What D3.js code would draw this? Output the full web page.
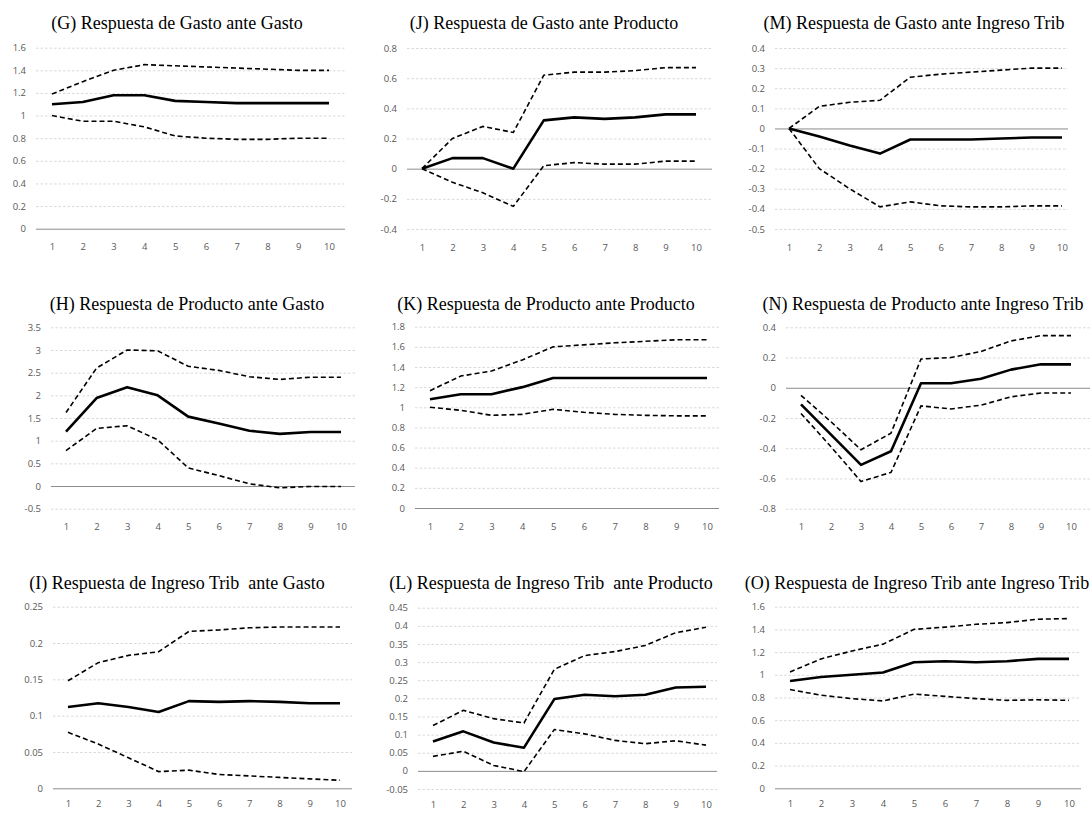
<!DOCTYPE html>
<html>
<head>
<meta charset="utf-8">
<script src="https://cdn.jsdelivr.net/npm/d3@7"></script>
<style>
  body { margin: 0; background: #fff; }
  svg { display: block; }
  .title { font-family: "Liberation Serif", "Times New Roman", serif; font-size: 18px; fill: #000; white-space: pre; }
  .tick text { font-family: "Open Sans", "Liberation Sans", sans-serif; font-size: 9.5px; fill: #595959; }
</style>
</head>
<body>
<svg id="chart" width="1092" height="813"></svg>
<script>
// periods on the x axis
const periods = [1, 2, 3, 4, 5, 6, 7, 8, 9, 10];

// (G) Gasto ante Gasto
const gTicks = [0, 0.2, 0.4, 0.6, 0.8, 1, 1.2, 1.4, 1.6];
const gCenter = [1.10, 1.12, 1.18, 1.18, 1.13, 1.12, 1.11, 1.11, 1.11, 1.11];
const gUpper = [1.19, 1.30, 1.40, 1.45, 1.44, 1.43, 1.42, 1.41, 1.40, 1.40];
const gLower = [1.00, 0.95, 0.95, 0.90, 0.82, 0.80, 0.79, 0.79, 0.80, 0.80];

// (J) Gasto ante Producto
const jTicks = [-0.4, -0.2, 0, 0.2, 0.4, 0.6, 0.8];
const jCenter = [0, 0.07, 0.07, 0, 0.32, 0.34, 0.33, 0.34, 0.36, 0.36];
const jUpper = [0, 0.20, 0.28, 0.24, 0.62, 0.64, 0.64, 0.65, 0.67, 0.67];
const jLower = [0, -0.09, -0.16, -0.25, 0.02, 0.04, 0.03, 0.03, 0.05, 0.05];

// (M) Gasto ante Ingreso Trib
const mTicks = [-0.5, -0.4, -0.3, -0.2, -0.1, 0, 0.1, 0.2, 0.3, 0.4];
const mCenter = [0, -0.04, -0.085, -0.125, -0.055, -0.055, -0.055, -0.05, -0.045, -0.045];
const mUpper = [0, 0.11, 0.13, 0.14, 0.255, 0.27, 0.28, 0.29, 0.30, 0.30];
const mLower = [0, -0.20, -0.30, -0.39, -0.365, -0.385, -0.39, -0.39, -0.385, -0.385];

// (H) Producto ante Gasto
const hTicks = [-0.5, 0, 0.5, 1, 1.5, 2, 2.5, 3, 3.5];
const hCenter = [1.20, 1.94, 2.18, 2.00, 1.53, 1.38, 1.22, 1.15, 1.19, 1.19];
const hUpper = [1.62, 2.60, 3.00, 2.98, 2.64, 2.55, 2.41, 2.35, 2.40, 2.40];
const hLower = [0.78, 1.27, 1.33, 1.02, 0.40, 0.23, 0.05, -0.04, -0.01, -0.01];

// (K) Producto ante Producto
const kTicks = [0, 0.2, 0.4, 0.6, 0.8, 1, 1.2, 1.4, 1.6, 1.8];
const kCenter = [1.08, 1.13, 1.13, 1.20, 1.29, 1.29, 1.29, 1.29, 1.29, 1.29];
const kUpper = [1.165, 1.31, 1.36, 1.47, 1.60, 1.62, 1.64, 1.655, 1.67, 1.67];
const kLower = [1.00, 0.97, 0.92, 0.93, 0.98, 0.95, 0.93, 0.92, 0.915, 0.915];

// (N) Producto ante Ingreso Trib
const nTicks = [-0.8, -0.6, -0.4, -0.2, 0, 0.2, 0.4];
const nCenter = [-0.11, -0.31, -0.51, -0.42, 0.03, 0.03, 0.06, 0.12, 0.155, 0.155];
const nUpper = [-0.05, -0.225, -0.41, -0.30, 0.19, 0.20, 0.24, 0.31, 0.345, 0.345];
const nLower = [-0.17, -0.39, -0.62, -0.56, -0.12, -0.14, -0.115, -0.06, -0.035, -0.035];

// (I) Ingreso Trib ante Gasto
const iTicks = [0, 0.05, 0.1, 0.15, 0.2, 0.25];
const iCenter = [0.112, 0.117, 0.112, 0.105, 0.120, 0.119, 0.120, 0.119, 0.117, 0.117];
const iUpper = [0.148, 0.173, 0.183, 0.188, 0.216, 0.218, 0.221, 0.222, 0.222, 0.222];
const iLower = [0.077, 0.061, 0.042, 0.023, 0.025, 0.019, 0.017, 0.015, 0.013, 0.011];

// (L) Ingreso Trib ante Producto
const lTicks = [-0.05, 0, 0.05, 0.1, 0.15, 0.2, 0.25, 0.3, 0.35, 0.4, 0.45];
const lCenter = [0.081, 0.109, 0.078, 0.064, 0.198, 0.210, 0.206, 0.210, 0.230, 0.232];
const lUpper = [0.125, 0.167, 0.144, 0.132, 0.280, 0.318, 0.329, 0.346, 0.381, 0.396];
const lLower = [0.040, 0.054, 0.015, -0.002, 0.114, 0.102, 0.084, 0.075, 0.083, 0.071];

// (O) Ingreso Trib ante Ingreso Trib
const oTicks = [0, 0.2, 0.4, 0.6, 0.8, 1, 1.2, 1.4, 1.6];
const oCenter = [0.945, 0.98, 1.00, 1.02, 1.11, 1.12, 1.11, 1.12, 1.14, 1.14];
const oUpper = [1.025, 1.14, 1.21, 1.27, 1.40, 1.42, 1.445, 1.46, 1.49, 1.495];
const oLower = [0.87, 0.82, 0.79, 0.77, 0.83, 0.81, 0.79, 0.775, 0.78, 0.775];

const titles = [
  '(G) Respuesta de Gasto ante Gasto',
  '(J) Respuesta de Gasto ante Producto',
  '(M) Respuesta de Gasto ante Ingreso Trib',
  '(H) Respuesta de Producto ante Gasto',
  '(K) Respuesta de Producto ante Producto',
  '(N) Respuesta de Producto ante Ingreso Trib',
  '(I) Respuesta de Ingreso Trib  ante Gasto',
  '(L) Respuesta de Ingreso Trib  ante Producto',
  '(O) Respuesta de Ingreso Trib ante Ingreso Trib'
];

const panels = [
  { ticks: gTicks, center: gCenter, upper: gUpper, lower: gLower },
  { ticks: jTicks, center: jCenter, upper: jUpper, lower: jLower },
  { ticks: mTicks, center: mCenter, upper: mUpper, lower: mLower },
  { ticks: hTicks, center: hCenter, upper: hUpper, lower: hLower },
  { ticks: kTicks, center: kCenter, upper: kUpper, lower: kLower },
  { ticks: nTicks, center: nCenter, upper: nUpper, lower: nLower },
  { ticks: iTicks, center: iCenter, upper: iUpper, lower: iLower },
  { ticks: lTicks, center: lCenter, upper: lUpper, lower: lLower },
  { ticks: oTicks, center: oCenter, upper: oUpper, lower: oLower }
];

// layout: plot box (grid extent), first/last x tick, y range, x label gap, title anchor
const layout = [
  { gx0: 36, gx1: 345, t1: 52, t10: 329, yTop: 47.7, yBot: 228.7, xPad: 15, tx: 177, ty: 29 },
  { gx0: 407, gx1: 712, t1: 422, t10: 696, yTop: 48, yBot: 229, xPad: 15, tx: 544, ty: 29 },
  { gx0: 775, gx1: 1068, t1: 789, t10: 1062, yTop: 48, yBot: 229, xPad: 15, tx: 914, ty: 29 },
  { gx0: 51, gx1: 355, t1: 66, t10: 341, yTop: 327.3, yBot: 508.7, xPad: 15, tx: 187, ty: 310 },
  { gx0: 415, gx1: 719, t1: 430, t10: 707, yTop: 326.7, yBot: 508, xPad: 15, tx: 546, ty: 310 },
  { gx0: 786, gx1: 1090, t1: 801, t10: 1071, yTop: 327.3, yBot: 508.7, xPad: 15, tx: 923, ty: 310 },
  { gx0: 53, gx1: 352, t1: 68, t10: 340, yTop: 606.7, yBot: 788.3, xPad: 12, tx: 177, ty: 589 },
  { gx0: 418, gx1: 717, t1: 433, t10: 706, yTop: 607.7, yBot: 789, xPad: 12, tx: 551, ty: 589 },
  { gx0: 775, gx1: 1081, t1: 790, t10: 1069, yTop: 606.7, yBot: 788.3, xPad: 12, tx: 917, ty: 589 }
];

const svg = d3.select('#chart');

panels.forEach(function(p, i) {
  const L = layout[i];
  const g = svg.append('g');

  const x = d3.scalePoint()
      .domain(periods)
      .range([L.t1, L.t10]);

  const y = d3.scaleLinear()
      .domain(d3.extent(p.ticks))
      .range([L.yBot, L.yTop]);

  // y axis with gridlines
  const yAxis = g.append('g')
      .attr('transform', 'translate(' + L.gx0 + ',0)')
      .call(d3.axisLeft(y)
        .tickValues(p.ticks)
        .tickSize(-(L.gx1 - L.gx0))
        .tickPadding(10)
        .tickFormat(function(d) { return String(d); }));
  yAxis.select('.domain').remove();
  yAxis.selectAll('.tick line')
      .attr('stroke', function(d) { return d === 0 ? '#8c8c8c' : '#d9d9d9'; })
      .attr('stroke-width', 1)
      .attr('stroke-dasharray', function(d) { return d === 0 ? null : '2.5,2'; });

  // x axis labels
  const xAxis = g.append('g')
      .attr('transform', 'translate(0,' + L.yBot + ')')
      .call(d3.axisBottom(x).tickSize(0).tickPadding(L.xPad));
  xAxis.select('.domain').remove();

  const line = d3.line()
      .x(function(d, k) { return x(periods[k]); })
      .y(function(d) { return y(d); });

  g.append('path')
      .datum(p.upper)
      .attr('fill', 'none')
      .attr('stroke', '#000')
      .attr('stroke-width', 1.6)
      .attr('stroke-dasharray', '5,3')
      .attr('d', line);

  g.append('path')
      .datum(p.lower)
      .attr('fill', 'none')
      .attr('stroke', '#000')
      .attr('stroke-width', 1.6)
      .attr('stroke-dasharray', '5,3')
      .attr('d', line);

  g.append('path')
      .datum(p.center)
      .attr('fill', 'none')
      .attr('stroke', '#000')
      .attr('stroke-width', 2.6)
      .attr('stroke-linejoin', 'round')
      .attr('d', line);

  g.append('text')
      .attr('class', 'title')
      .attr('x', L.tx)
      .attr('y', L.ty)
      .attr('text-anchor', 'middle')
      .text(titles[i]);
});
</script>
</body>
</html>
